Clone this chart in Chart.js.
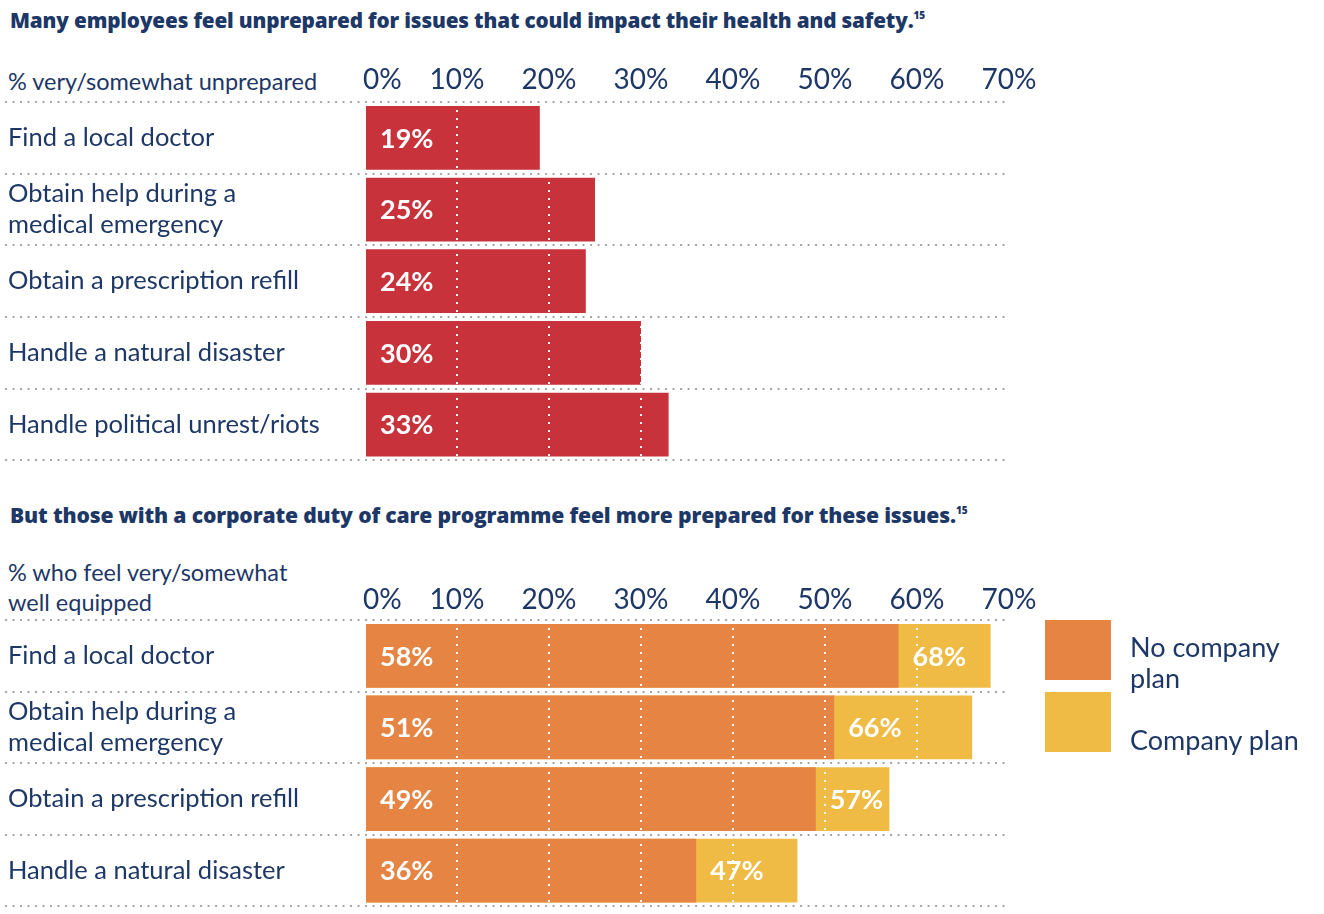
<!DOCTYPE html>
<html>
<head>
<meta charset="utf-8">
<script src="https://cdn.jsdelivr.net/npm/chart.js@4.4.1/dist/chart.umd.min.js"></script>
<style>
  body { margin: 0; background: #fff; font-family: Lato, "Open Sans", sans-serif; color: #1d3766; }
  #page { position: relative; width: 1324px; height: 914px; overflow: hidden; }
  .title { position: absolute; left: 10px; font-family: "Open Sans", Lato, sans-serif; font-weight: 800; font-size: 20.7px; white-space: nowrap; letter-spacing: -0.15px; }
  .title sup { font-size: 10px; vertical-align: 9px; }
  .sub { position: absolute; left: 8px; font-size: 23.5px; line-height: 30px; }
  .box { position: absolute; left: 0; width: 1324px; }
  .sw { position: absolute; left: 1045px; width: 66px; height: 60px; }
  .lt { position: absolute; left: 1130px; font-size: 27px; line-height: 31px; width: 180px; }
</style>
</head>
<body>
<div id="page">
  <div class="title" style="top:6px">Many employees feel unprepared for issues that could impact their health and safety.<sup>15</sup></div>
  <div class="sub" style="top:66px">% very/somewhat unprepared</div>
  <div class="box" style="top:0; height:476px"><canvas id="top"></canvas></div>

  <div class="title" style="top:500px; font-size:21.1px">But those with a corporate duty of care programme feel more prepared for these issues.<sup>15</sup></div>
  <div class="sub" style="top:557px">% who feel very/somewhat<br>well equipped</div>
  <div class="box" style="top:480px; height:442px"><canvas id="bottom"></canvas></div>

  <div id="legend"></div>
</div>
<script>
// data
const topCategories = ['Find a local doctor', ['Obtain help during a', 'medical emergency'], 'Obtain a prescription refill', 'Handle a natural disaster', 'Handle political unrest/riots'];
const topValues = [19, 25, 24, 30, 33];

const bottomCategories = ['Find a local doctor', ['Obtain help during a', 'medical emergency'], 'Obtain a prescription refill', 'Handle a natural disaster'];
const seriesNames = ['No company plan', 'Company plan'];
const noPlanValues = [58, 51, 49, 36];
const planValues = [68, 66, 57, 47];

const tickValues = [0, 10, 20, 30, 40, 50, 60, 70];

const navy = '#1d3766';
const red = '#c8323a';
const orange = '#e58443';
const yellow = '#efbb45';
const font = 'Lato, "Open Sans", sans-serif';

// dotted row separators across the full width
const rowLines = {
  id: 'rowLines',
  afterDraw(chart) {
    const ctx = chart.ctx, y = chart.scales.y, area = chart.chartArea;
    const n = chart.data.labels.length;
    const ys = [area.top, area.bottom];
    for (let i = 0; i < n - 1; i++) ys.push((y.getPixelForValue(i) + y.getPixelForValue(i + 1)) / 2);
    ctx.save();
    ctx.strokeStyle = '#9a9a9a';
    ctx.lineWidth = 2.2;
    ctx.lineCap = 'round';
    ctx.setLineDash([0.1, 7.4]);
    ys.forEach(p => {
      ctx.beginPath();
      ctx.moveTo(6, Math.round(p));
      ctx.lineTo(area.right, Math.round(p));
      ctx.stroke();
    });
    ctx.restore();
  }
};

// x tick labels above the chart (0% left aligned on the axis start)
const topTicks = {
  id: 'topTicks',
  afterDraw(chart, args, opts) {
    const ctx = chart.ctx, x = chart.scales.x;
    ctx.save();
    ctx.fillStyle = navy;
    ctx.font = '28px ' + font;
    ctx.textBaseline = 'middle';
    tickValues.forEach(v => {
      ctx.textAlign = v === 0 ? 'left' : 'center';
      ctx.fillText(v + '%', x.getPixelForValue(v) - (v === 0 ? 2 : 0), chart.chartArea.top - opts.gap);
    });
    ctx.restore();
  }
};

// white value labels inside the bars
const barLabels = {
  id: 'barLabels',
  afterDatasetsDraw(chart) {
    const ctx = chart.ctx;
    ctx.save();
    ctx.fillStyle = '#fff';
    ctx.font = 'bold 27px ' + font;
    ctx.textBaseline = 'middle';
    ctx.textAlign = 'left';
    chart.data.datasets.forEach((ds, di) => {
      chart.getDatasetMeta(di).data.forEach((bar, i) => {
        const start = di === 0 ? bar.base : chart.getDatasetMeta(0).data[i].x;
        ctx.fillText(ds.data[i] + '%', start + 14, bar.y + 1);
      });
    });
    ctx.restore();
  }
};

function makeOptions(topPad, axisH, bottomPad, gap) {
  return {
    responsive: true,
    maintainAspectRatio: false,
    animation: false,
    indexAxis: 'y',
    layout: { padding: { left: 8, right: 315, top: topPad, bottom: bottomPad } },
    plugins: { legend: { display: false }, tooltip: { enabled: false }, topTicks: { gap: gap } },
    scales: {
      x: {
        position: 'top',
        min: 0, max: 70,
        ticks: { display: false, stepSize: 10 },
        border: { display: false, dash: [2, 6] },
        grid: {
          z: 1,
          drawTicks: false,
          lineWidth: 2,
          color: c => (c.tick && c.tick.value > 0 && c.tick.value < 70) ? 'rgba(255,255,255,0.95)' : 'rgba(0,0,0,0)'
        },
        afterFit(s) { s.height = axisH; }
      },
      y: {
        border: { display: false },
        grid: { display: false },
        ticks: {
          crossAlign: 'far',
          color: navy,
          font: { family: font, size: 25.5, lineHeight: 1.22 },
          padding: 0
        },
        afterFit(s) { s.width = 357; }
      }
    }
  };
}

new Chart(document.getElementById('top'), {
  type: 'bar',
  data: {
    labels: topCategories,
    datasets: [{ data: topValues, backgroundColor: red, barPercentage: 0.89, categoryPercentage: 1 }]
  },
  options: makeOptions(60, 42, 10, 22),
  plugins: [rowLines, topTicks, barLabels]
});

new Chart(document.getElementById('bottom'), {
  type: 'bar',
  data: {
    labels: bottomCategories,
    datasets: [
      { label: seriesNames[0], data: noPlanValues, backgroundColor: orange, barPercentage: 0.89, categoryPercentage: 1, grouped: false },
      { label: seriesNames[1], data: planValues, backgroundColor: yellow, barPercentage: 0.89, categoryPercentage: 1, grouped: false }
    ]
  },
  options: makeOptions(100, 40, 8, 20),
  plugins: [rowLines, topTicks, barLabels]
});

// legend
const legend = document.getElementById('legend');
const swatchColors = [orange, yellow];
const swatchTops = [620, 692];
const textTops = [631, 724];
seriesNames.forEach((name, i) => {
  const sw = document.createElement('div');
  sw.className = 'sw';
  sw.style.top = swatchTops[i] + 'px';
  sw.style.background = swatchColors[i];
  legend.appendChild(sw);
  const t = document.createElement('div');
  t.className = 'lt';
  t.style.top = textTops[i] + 'px';
  t.textContent = name;
  if (i === 0) t.innerHTML = 'No company<br>plan';
  legend.appendChild(t);
});
</script>
</body>
</html>
